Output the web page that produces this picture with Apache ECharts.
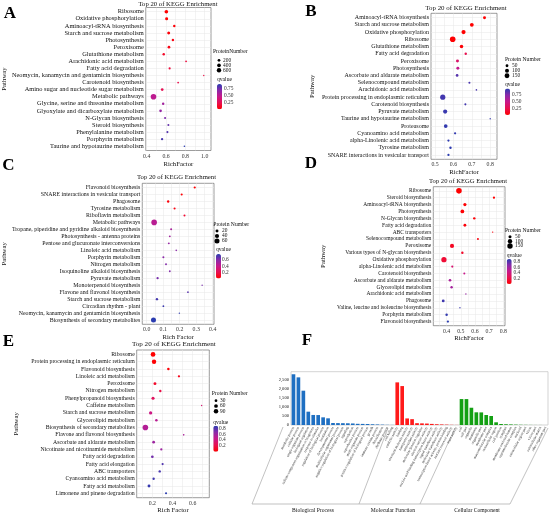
<!DOCTYPE html>
<html>
<head>
<meta charset="utf-8">
<script src="https://cdn.jsdelivr.net/npm/echarts@6/dist/echarts.min.js"></script>
<style>
  html, body { margin: 0; padding: 0; background: #fff; }
  #main { width: 550px; height: 517px; }
</style>
</head>
<body>
<div id="main"></div>
<script>
// ---- panel A ----
var namesA = ["Ribosome", "Oxidative phosphorylation", "Aminoacyl-tRNA biosynthesis", "Starch and sucrose metabolism",
  "Photosynthesis", "Peroxisome", "Glutathione metabolism", "Arachidonic acid metabolism", "Fatty acid degradation",
  "Neomycin, kanamycin and gentamicin biosynthesis", "Carotenoid biosynthesis", "Amino sugar and nucleotide sugar metabolism",
  "Metabolic pathways", "Glycine, serine and threonine metabolism", "Glyoxylate and dicarboxylate metabolism",
  "N-Glycan biosynthesis", "Steroid biosynthesis", "Phenylalanine metabolism", "Porphyrin metabolism",
  "Taurine and hypotaurine metabolism"];
var richA = [0.603, 0.606, 0.685, 0.627, 0.671, 0.63, 0.576, 0.807, 0.637, 0.99, 0.725, 0.56, 0.47, 0.57, 0.543, 0.59, 0.624, 0.614, 0.559, 0.79];
var countA = [400, 250, 150, 250, 150, 200, 150, 60, 100, 15, 60, 200, 1000, 150, 180, 100, 90, 100, 130, 40];
var qvalA = [0.0, 0.0, 0.02, 0.03, 0.05, 0.06, 0.12, 0.18, 0.18, 0.2, 0.22, 0.25, 0.5, 0.6, 0.65, 0.72, 0.78, 0.82, 0.85, 0.92];
var xTicksA = [0.4, 0.6, 0.8, 1.0];
var xMinorA = [0.5, 0.7, 0.9];
var sizeBreaksA = [200, 400, 600];
var qTicksA = [0.25, 0.5, 0.75];

// ---- panel B ----
var namesB = ["Aminoacyl-tRNA biosynthesis", "Starch and sucrose metabolism", "Oxidative phosphorylation", "Ribosome",
  "Glutathione metabolism", "Fatty acid degradation", "Peroxisome", "Photosynthesis", "Ascorbate and aldarate metabolism",
  "Selenocompound metabolism", "Arachidonic acid metabolism", "Protein processing in endoplasmic reticulum",
  "Carotenoid biosynthesis", "Pyruvate metabolism", "Taurine and hypotaurine metabolism", "Proteasome",
  "Cyanoamino acid metabolism", "alpha-Linolenic acid metabolism", "Tyrosine metabolism",
  "SNARE interactions in vesicular transport"];
var richB = [0.769, 0.70, 0.655, 0.596, 0.644, 0.667, 0.622, 0.624, 0.62, 0.687, 0.725, 0.542, 0.665, 0.555, 0.80, 0.558, 0.609, 0.573, 0.584, 0.573];
var countB = [55, 90, 110, 200, 75, 35, 55, 55, 45, 25, 15, 170, 25, 110, 10, 85, 30, 30, 35, 30];
var qvalB = [0.0, 0.0, 0.01, 0.02, 0.03, 0.25, 0.35, 0.5, 0.85, 0.88, 0.88, 0.9, 0.9, 0.92, 0.93, 0.94, 0.94, 0.95, 0.95, 0.96];
var xTicksB = [0.5, 0.6, 0.7, 0.8];
var xMinorB = [0.55, 0.65, 0.75];
var sizeBreaksB = [50, 100, 150];
var qTicksB = [0.25, 0.5, 0.75];

// ---- panel C ----
var namesC = ["Flavonoid biosynthesis", "SNARE interactions in vesicular transport", "Phagosome", "Tyrosine metabolism",
  "Riboflavin metabolism", "Metabolic pathways", "Tropane, piperidine and pyridine alkaloid biosynthesis",
  "Photosynthesis - antenna proteins", "Pentose and glucuronate interconversions", "Linoleic acid metabolism",
  "Porphyrin metabolism", "Nitrogen metabolism", "Isoquinoline alkaloid biosynthesis", "Pyruvate metabolism",
  "Monoterpenoid biosynthesis", "Flavone and flavonol biosynthesis", "Starch and sucrose metabolism",
  "Circadian rhythm - plant", "Neomycin, kanamycin and gentamicin biosynthesis", "Biosynthesis of secondary metabolites"];
var richC = [0.291, 0.212, 0.130, 0.169, 0.229, 0.045, 0.148, 0.14, 0.134, 0.179, 0.101, 0.117, 0.14, 0.066, 0.336, 0.25, 0.062, 0.101, 0.198, 0.041];
var countC = [10, 9, 12, 9, 8, 75, 8, 7, 7, 5, 8, 7, 6, 11, 3, 5, 12, 6, 3, 60];
var qvalC = [0.04, 0.05, 0.06, 0.08, 0.15, 0.45, 0.5, 0.52, 0.55, 0.58, 0.58, 0.6, 0.6, 0.62, 0.62, 0.68, 0.72, 0.74, 0.76, 0.77];
var xTicksC = [0.0, 0.1, 0.2, 0.3, 0.4];
var xMinorC = [0.05, 0.15, 0.25, 0.35];
var sizeBreaksC = [20, 40, 60];
var qTicksC = [0.2, 0.4, 0.6];

// ---- panel D ----
var namesD = ["Ribosome", "Steroid biosynthesis", "Aminoacyl-tRNA biosynthesis", "Photosynthesis", "N-Glycan biosynthesis",
  "Fatty acid degradation", "ABC transporters", "Selenocompound metabolism", "Peroxisome",
  "Various types of N-glycan biosynthesis", "Oxidative phosphorylation", "alpha-Linolenic acid metabolism",
  "Carotenoid biosynthesis", "Ascorbate and aldarate metabolism", "Glycerolipid metabolism",
  "Arachidonic acid metabolism", "Phagosome", "Valine, leucine and isoleucine biosynthesis", "Porphyrin metabolism",
  "Flavonoid biosynthesis"];
var richD = [0.487, 0.734, 0.529, 0.511, 0.595, 0.529, 0.725, 0.621, 0.438, 0.511, 0.381, 0.44, 0.525, 0.424, 0.435, 0.536, 0.376, 0.494, 0.40, 0.409];
var countD = [160, 30, 55, 75, 35, 45, 15, 25, 90, 35, 140, 30, 25, 40, 35, 15, 45, 15, 35, 30];
var qvalD = [0.0, 0.0, 0.01, 0.01, 0.02, 0.03, 0.04, 0.05, 0.1, 0.12, 0.15, 0.35, 0.45, 0.55, 0.58, 0.62, 0.85, 0.86, 0.88, 0.9];
var xTicksD = [0.4, 0.5, 0.6, 0.7, 0.8];
var xMinorD = [0.35, 0.45, 0.55, 0.65, 0.75];
var sizeBreaksD = [50, 100, 150];
var qTicksD = [0.2, 0.4, 0.6, 0.8];

// ---- panel E ----
var namesE = ["Ribosome", "Protein processing in endoplasmic reticulum", "Flavonoid biosynthesis", "Linoleic acid metabolism",
  "Peroxisome", "Nitrogen metabolism", "Phenylpropanoid biosynthesis", "Caffeine metabolism",
  "Starch and sucrose metabolism", "Glycerolipid metabolism", "Biosynthesis of secondary metabolites",
  "Flavone and flavonol biosynthesis", "Ascorbate and aldarate metabolism", "Nicotinate and nicotinamide metabolism",
  "Fatty acid degradation", "Fatty acid elongation", "ABC transporters", "Cyanoamino acid metabolism",
  "Fatty acid metabolism", "Limonene and pinene degradation"];
var richE = [0.207, 0.217, 0.359, 0.464, 0.226, 0.279, 0.207, 0.689, 0.183, 0.24, 0.131, 0.511, 0.213, 0.289, 0.20, 0.302, 0.273, 0.213, 0.167, 0.336];
var countE = [100, 85, 25, 20, 35, 22, 40, 5, 45, 25, 140, 8, 30, 20, 30, 18, 22, 22, 35, 15];
var qvalE = [0.0, 0.01, 0.02, 0.08, 0.12, 0.2, 0.28, 0.35, 0.42, 0.5, 0.52, 0.55, 0.6, 0.6, 0.72, 0.8, 0.82, 0.84, 0.86, 0.89];
var xTicksE = [0.2, 0.4, 0.6];
var xMinorE = [0.1, 0.3, 0.5, 0.7];
var sizeBreaksE = [30, 60, 90];
var qTicksE = [0.2, 0.4, 0.6, 0.8];

// ---- panel F (GO) ----
var bpTerms = ["metabolic process", "cellular process", "single-organism process", "biological regulation",
  "cellular component organization or biogenesis", "response to stimulus", "regulation of biological process",
  "localization", "developmental process", "multicellular organismal process",
  "negative regulation of biological process", "signaling", "reproduction", "reproductive process",
  "multi-organism process", "positive regulation of biological process", "growth", "immune system process",
  "detoxification", "rhythmic process", "cell killing"];
var bpCounts = [2780, 2610, 1880, 730, 550, 545, 420, 366, 110, 105, 100, 95, 85, 65, 60, 55, 40, 30, 20, 10, 5];
var mfTerms = ["catalytic activity", "binding", "structural molecule activity", "transporter activity",
  "antioxidant activity", "molecular function regulator", "electron carrier activity",
  "nucleic acid binding transcription factor activity", "signal transducer activity",
  "molecular transducer activity", "transcription factor activity, protein binding",
  "nutrient reservoir activity", "toxin activity"];
var mfCounts = [2335, 2133, 360, 320, 100, 90, 80, 60, 40, 30, 20, 10, 5];
var ccTerms = ["cell", "cell part", "organelle", "membrane", "organelle part", "membrane part",
  "macromolecular complex", "extracellular region", "cell junction", "symplast", "membrane-enclosed lumen",
  "supramolecular complex", "nucleoid", "extracellular region part", "virion", "virion part",
  "extracellular matrix", "other organism part"];
var ccCounts = [1422, 1420, 946, 695, 690, 547, 492, 148, 55, 40, 30, 20, 12, 8, 5, 3, 2, 1];
var goGroups = ["Biological Process", "Molecular Function", "Cellular Component"];
var goTicks = [0, 500, 1000, 1500, 2000, 2500];

var serif = '"Liberation Serif", "Times New Roman", serif';
var qColors = ["#FF0000", "#E8104F", "#C8188A", "#8a2aaa", "#2a3cb0"];

// layout of the five bubble panels (pixels in the 550x517 page)
var panels = [
  { letter: "A", names: namesA, rich: richA, count: countA, q: qvalA, xt: xTicksA, xm: xMinorA, sb: sizeBreaksA, qt: qTicksA,
    xName: "RichFactor", sTitle: "ProteinNumber", qDig: 2,
    grid: { left: 145, top: 7.5, width: 66, height: 143 }, xMin: 0.39, xMax: 1.065, qMin: 0, qMax: 0.92,
    xGap: 10, yGap: 130.5, yFont: 6.4, tFont: 6.7, title: [178, 0.7], let: [10, 5],
    sl: { tx: 213, ty: 51.7, cx: 219, cy: [60.3, 65.3, 70.3], lx: 223 },
    cl: { tx: 217, ty: 80, x: 217, y: 84, h: 25.3, lx: 224 } },
  { letter: "B", names: namesB, rich: richB, count: countB, q: qvalB, xt: xTicksB, xm: xMinorB, sb: sizeBreaksB, qt: qTicksB,
    xName: "RichFactor", sTitle: "Protein Number", qDig: 2,
    grid: { left: 431, top: 13.3, width: 66, height: 146 }, xMin: 0.478, xMax: 0.837, qMin: 0.01, qMax: 0.96,
    xGap: 6, yGap: 115, yFont: 6.0, tFont: 6.9, title: [466, 4.9], let: [311, 3.5],
    sl: { tx: 505, ty: 59.3, cx: 507, cy: [65.7, 70.7, 75.7], lx: 512 },
    cl: { tx: 505, ty: 84.5, x: 505, y: 88.5, h: 26.5, lx: 512 } },
  { letter: "C", names: namesC, rich: richC, count: countC, q: qvalC, xt: xTicksC, xm: xMinorC, sb: sizeBreaksC, qt: qTicksC,
    xName: "Rich Factor", sTitle: "Protein Number", qDig: 1,
    grid: { left: 139.3, top: 183.3, width: 74.7, height: 141 }, xMin: -0.027, xMax: 0.408, qMin: 0.035, qMax: 0.77,
    xGap: 6, yGap: 128.5, yFont: 5.9, tFont: 6.7, title: [176.5, 174.2], let: [8.5, 157],
    sl: { tx: 213.3, ty: 225, cx: 217, cy: [231, 236, 241], lx: 222 },
    cl: { tx: 216, ty: 250, x: 216, y: 254, h: 24.5, lx: 222 } },
  { letter: "D", names: namesD, rich: richD, count: countD, q: qvalD, xt: xTicksD, xm: xMinorD, sb: sizeBreaksD, qt: qTicksD,
    xName: "RichFactor", sTitle: "Protein Number", qDig: 1,
    grid: { left: 433.3, top: 186.7, width: 71.7, height: 139 }, xMin: 0.306, xMax: 0.812, qMin: 0.0, qMax: 0.9,
    xGap: 8.5, yGap: 106.5, yFont: 5.5, tFont: 6.6, title: [468, 178.2], let: [311, 155],
    sl: { tx: 505, ty: 231, cx: 510, cy: [236.7, 241.3, 246], lx: 515 },
    cl: { tx: 506.7, ty: 255.7, x: 506.7, y: 259, h: 25, lx: 513.5 } },
  { letter: "E", names: namesE, rich: richE, count: countE, q: qvalE, xt: xTicksE, xm: xMinorE, sb: sizeBreaksE, qt: qTicksE,
    xName: "Rich Factor", sTitle: "Protein Number", qDig: 1,
    grid: { left: 136.7, top: 350, width: 72.6, height: 147.7 }, xMin: 0.045, xMax: 0.765, qMin: 0.0, qMax: 0.89,
    xGap: 8.8, yGap: 116.5, yFont: 5.8, tFont: 7.1, title: [173.8, 340.8], let: [8.5, 333],
    sl: { tx: 211.7, ty: 394, cx: 216, cy: [400.7, 406, 411.3], lx: 220 },
    cl: { tx: 213.3, ty: 422.3, x: 213.3, y: 425.7, h: 26, lx: 219 } }
];

// ggplot-like area scaling for the bubbles
function sizeScale(counts) {
  var nMin = Math.min.apply(null, counts), nMax = Math.max.apply(null, counts);
  var dMin = 1.4, dMax = 5.6;
  return function (n) {
    var t = Math.max(0, (n - nMin) / (nMax - nMin));
    return Math.sqrt(dMin * dMin + (dMax * dMax - dMin * dMin) * t);
  };
}

function txt(x, y, s, size, align, extra) {
  var st = { text: s, fill: "#111", font: size + "px " + serif, align: align || "left", verticalAlign: "middle" };
  if (extra) for (var k in extra) st[k] = extra[k];
  return { type: "text", x: x, y: y, silent: true, style: st };
}

var grids = [], xAxes = [], yAxes = [], series = [], visualMaps = [], titles = [], graphics = [];
var rowIdx = [];
for (var r = 0; r < 20; r++) rowIdx.push(r);

panels.forEach(function (p, i) {
  var sz = sizeScale(p.count);
  grids.push({ left: p.grid.left, top: p.grid.top, width: p.grid.width, height: p.grid.height,
    show: true, borderColor: "#5a5a5a", borderWidth: 0.6, backgroundColor: "#fff", containLabel: false });
  xAxes.push({
    type: "value", gridIndex: i, min: p.xMin, max: p.xMax,
    name: p.xName, nameLocation: "middle", nameGap: p.xGap,
    nameTextStyle: { fontFamily: serif, fontSize: 6.7, color: "#111" },
    axisLine: { show: false },
    axisTick: { show: false, customValues: p.xt.concat(p.xm) },
    axisLabel: { customValues: p.xt, fontFamily: serif, fontSize: 5.8, color: "#333", margin: 2.5,
      formatter: function (v) { return v.toFixed(1); } },
    splitLine: { show: true, lineStyle: { color: "#e6e6e6", width: 0.5 } }
  });
  yAxes.push({
    type: "value", gridIndex: i, min: -0.6, max: 19.6, inverse: true,
    name: "Pathway", nameLocation: "middle", nameGap: p.yGap, nameRotate: 90,
    nameTextStyle: { fontFamily: serif, fontSize: 6.8, color: "#111" },
    axisLine: { show: false },
    axisTick: { show: false, customValues: rowIdx },
    axisLabel: { customValues: rowIdx, fontFamily: serif, fontSize: p.yFont, color: "#111", margin: 2,
      formatter: (function (names) { return function (v) { return names[Math.round(v)] || ""; }; })(p.names) },
    splitLine: { show: true, lineStyle: { color: "#e6e6e6", width: 0.5 } }
  });
  series.push({
    type: "scatter", xAxisIndex: i, yAxisIndex: i,
    data: p.rich.map(function (x, k) { return [x, k, p.count[k], p.q[k]]; }),
    symbolSize: function (d) { return sz(d[2]); },
    itemStyle: { opacity: 1 },
    silent: true
  });
  visualMaps.push({
    type: "continuous", seriesIndex: i, dimension: 3, min: p.qMin, max: p.qMax,
    inRange: { color: qColors }, calculable: false, realtime: false, hoverLink: false,
    left: p.cl.x, top: p.cl.y, itemWidth: 5, itemHeight: p.cl.h, padding: 0,
    text: null, textStyle: { fontSize: 1, color: "rgba(0,0,0,0)" }
  });
  titles.push({ text: "Top 20 of KEGG Enrichment", left: p.title[0], top: p.title[1], textAlign: "center", padding: 0,
    textStyle: { fontFamily: serif, fontSize: p.tFont, fontWeight: "normal", color: "#111" } });
  titles.push({ text: p.letter, left: p.let[0], top: p.let[1], textAlign: "center", padding: 0,
    textStyle: { fontFamily: serif, fontSize: 17, fontWeight: "bold", color: "#000" } });

  // size legend
  graphics.push(txt(p.sl.tx, p.sl.ty, p.sTitle, 5.6, "left"));
  p.sb.forEach(function (v, k) {
    graphics.push({ type: "circle", silent: true, shape: { cx: p.sl.cx, cy: p.sl.cy[k], r: sz(v) / 2 }, style: { fill: "#000" } });
    graphics.push(txt(p.sl.lx, p.sl.cy[k], String(v), 5.4, "left"));
  });
  // colour legend title and tick labels
  graphics.push(txt(p.cl.tx, p.cl.ty, "qvalue", 5.6, "left"));
  p.qt.forEach(function (v) {
    var y = p.cl.y + (p.qMax - v) / (p.qMax - p.qMin) * p.cl.h;
    graphics.push(txt(p.cl.lx, y, v.toFixed(p.qDig), 5.4, "left", { fill: "#333" }));
  });
});

// ---- GO bar panel ----
var goTerms = bpTerms.concat(mfTerms, ccTerms);
function padded(vals, before, after) {
  var out = [], k;
  for (k = 0; k < before; k++) out.push("-");
  out = out.concat(vals);
  for (k = 0; k < after; k++) out.push("-");
  return out;
}
var nBP = bpTerms.length, nMF = mfTerms.length, nCC = ccTerms.length;
grids.push({ left: 291, top: 371.7, width: 257, height: 53.3, show: true, borderColor: "#c8c8c8", borderWidth: 0.8, backgroundColor: "#fff" });
xAxes.push({
  type: "category", gridIndex: 5, data: goTerms,
  axisLine: { show: false }, axisTick: { show: false },
  axisLabel: { interval: 0, rotate: 62, fontSize: 3.5, fontFamily: serif, color: "#222", margin: 2 },
  splitLine: { show: false }
});
yAxes.push({
  type: "value", gridIndex: 5, min: 0, max: 2920,
  axisLine: { show: false }, axisTick: { show: false, customValues: goTicks },
  axisLabel: { customValues: goTicks, fontSize: 4.6, fontFamily: serif, color: "#222", margin: 2 },
  splitLine: { show: false }
});
var goColors = ["#1e6fc2", "#ff1a1a", "#14a014"];
[padded(bpCounts, 0, nMF + nCC), padded(mfCounts, nBP, nCC), padded(ccCounts, nBP + nMF, 0)].forEach(function (d, k) {
  series.push({ type: "bar", xAxisIndex: 5, yAxisIndex: 5, stack: "go", data: d, barWidth: "74%",
    itemStyle: { color: goColors[k] }, silent: true });
});
titles.push({ text: "F", left: 307, top: 332, textAlign: "center", padding: 0,
  textStyle: { fontFamily: serif, fontSize: 17, fontWeight: "bold", color: "#000" } });

// frame under the GO labels
var frameStyle = { stroke: "#a8a8a8", lineWidth: 0.7, fill: null };
[[[283, 427], [252, 504]], [[252, 504], [510, 504]], [[388, 428], [359, 504]], [[455, 428], [420, 504]], [[548, 428], [510, 504]]]
  .forEach(function (pts) {
    graphics.push({ type: "polyline", silent: true, shape: { points: pts }, style: frameStyle });
  });
[313, 393, 477].forEach(function (x, k) {
  graphics.push(txt(x, 511, goGroups[k], 5.6, "center"));
});

var myChart = echarts.init(document.getElementById("main"), null, { renderer: "canvas" });
myChart.setOption({
  backgroundColor: "#fff",
  animation: false,
  title: titles,
  grid: grids,
  xAxis: xAxes,
  yAxis: yAxes,
  visualMap: visualMaps,
  series: series,
  graphic: { elements: graphics }
});
</script>
</body>
</html>
